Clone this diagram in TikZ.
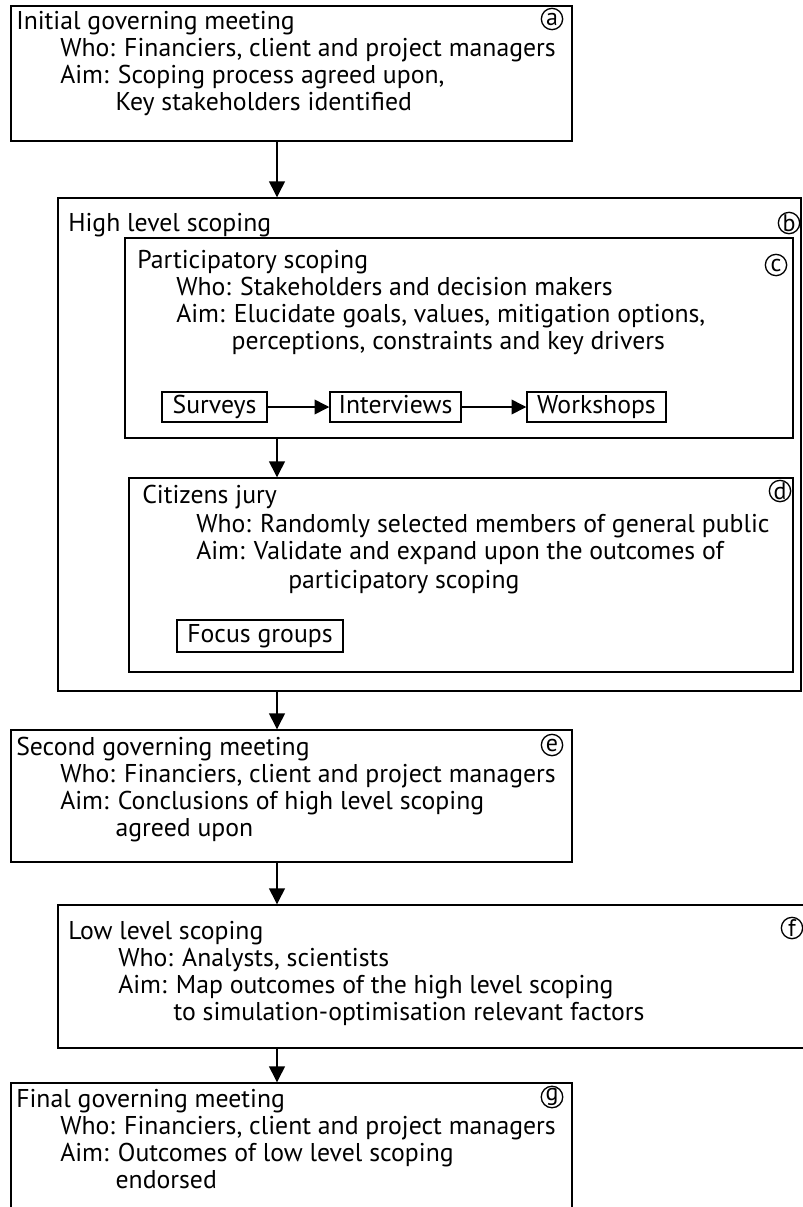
\documentclass[tikz,border=0pt]{standalone}
\usepackage{fontspec}
\setmainfont{PT Sans}
\usetikzlibrary{arrows.meta,fit}
\newcommand\aimind{\hphantom{Aim:\ }}
\begin{document}
\begin{tikzpicture}[x=0.75pt,y=-0.75pt,
  box/.style={draw, line width=1.1pt, inner sep=0pt},
  sbox/.style={draw, line width=1.1pt, inner sep=0pt, text height=13.5pt, text depth=4pt, font=\fontsize{19.3}{21}\selectfont},
  txt/.style={anchor=mid west, inner sep=0pt, yshift=-2.2pt, font=\fontsize{19.3}{21}\selectfont},
  circ/.style={draw, circle, line width=1pt, inner sep=0pt, minimum size=16pt, font=\fontsize{18}{18}\selectfont},
  arr/.style={line width=1.1pt, -{Triangle[length=12pt,width=12pt]}},
  sarr/.style={line width=1.1pt, -{Triangle[length=11pt,width=11pt]}}]
\useasboundingbox (0,0) rectangle (803,1207);
\coordinate (ax) at (277,0);
% boxes
\node[box, fit={(11,6)(572,141)}] (a) {};
\node[box, fit={(58,198)(801,691)}] (b) {};
\node[box, fit={(125,238)(793,438)}] (c) {};
\node[box, fit={(129,478)(793,672)}] (d) {};
\node[box, fit={(11,730)(572,862)}] (e) {};
\node[box, fit={(58,905)(812,1048)}] (f) {};
\node[box, fit={(11,1083)(572,1212)}] (g) {};
% box a
\node[txt] (a1) at (16,23) {Initial governing meeting};
\node[txt] (a2) at (60,50) {Who: Financiers, client and project managers};
\node[txt] (a3) at (60,77) {Aim: Scoping process agreed upon,};
\node[txt] (a4) at (60,104) {\aimind Key stakeholders identified};
\node[circ] (ca) at (552,19) {a};
% box b
\node[txt] (b1) at (68,225.5) {High level scoping};
\node[circ] (cb) at (789,223) {b};
% box c
\node[txt] (c1) at (137,262) {Participatory scoping};
\node[txt] (c2) at (176,289) {Who: Stakeholders and decision makers};
\node[txt] (c3) at (176,316) {Aim: Elucidate goals, values, mitigation options,};
\node[txt] (c4) at (176,343) {\aimind perceptions, constraints and key drivers};
\node[circ] (cc) at (776,265) {c};
\node[sbox, minimum width={105*0.75pt}, minimum height={30*0.75pt}] (s1) at (214.5,407) {Surveys};
\node[sbox, minimum width={131*0.75pt}, minimum height={30*0.75pt}] (s2) at (395.5,407) {Interviews};
\node[sbox, minimum width={139*0.75pt}, minimum height={30*0.75pt}] (s3) at (596.5,407) {Workshops};
\draw[sarr] (s1) -- (s2);
\draw[sarr] (s2) -- (s3);
% box d
\node[txt] (d1) at (142,497) {Citizens jury};
\node[txt] (d2) at (196,526) {Who: Randomly selected members of general public};
\node[txt] (d3) at (196,553) {Aim: Validate and expand upon the outcomes of};
\node[txt] (d4) at (288,582) {participatory scoping};
\node[circ] (cd) at (780,491) {d};
\node[sbox, minimum width={166*0.75pt}, minimum height={32*0.75pt}] (fg) at (260,636) {Focus groups};
% box e
\node[txt] (e1) at (16,749) {Second governing meeting};
\node[txt] (e2) at (60,776) {Who: Financiers, client and project managers};
\node[txt] (e3) at (60,803) {Aim: Conclusions of high level scoping};
\node[txt] (e4) at (60,830) {\aimind agreed upon};
\node[circ] (ce) at (552,745) {e};
% box f
\node[txt] (f1) at (68,933) {Low level scoping};
\node[txt] (f2) at (118,960) {Who: Analysts, scientists};
\node[txt] (f3) at (118,987) {Aim: Map outcomes of the high level scoping};
\node[txt] (f4) at (118,1014) {\aimind to simulation-optimisation relevant factors};
\node[circ] (cf) at (792,928) {f};
% box g
\node[txt] (g1) at (16,1101) {Final governing meeting};
\node[txt] (g2) at (60,1128) {Who: Financiers, client and project managers};
\node[txt] (g3) at (60,1155) {Aim: Outcomes of low level scoping};
\node[txt] (g4) at (60,1182) {\aimind endorsed};
\node[circ] (cg) at (552,1097) {g};
% connectors
\draw[arr] (a.south -| ax) -- (b.north -| ax);
\draw[arr] (c.south -| ax) -- (d.north -| ax);
\draw[arr] (b.south -| ax) -- (e.north -| ax);
\draw[arr] (e.south -| ax) -- (f.north -| ax);
\draw[arr] (f.south -| ax) -- (g.north -| ax);
\end{tikzpicture}
\end{document}
